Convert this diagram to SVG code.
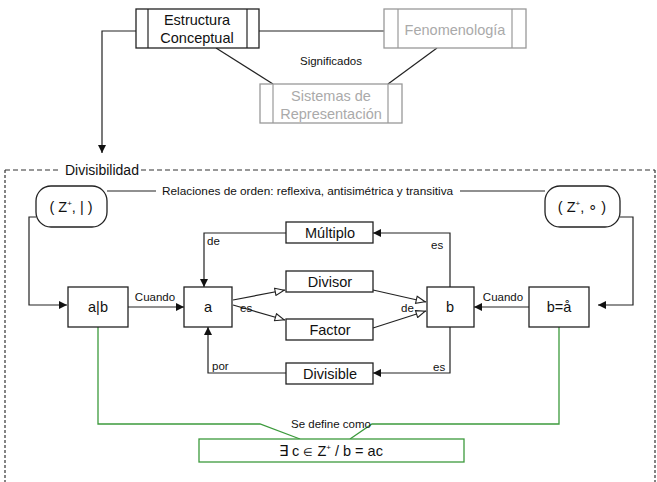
<svg xmlns="http://www.w3.org/2000/svg" width="657" height="482" viewBox="0 0 657 482">
  <style>
    text { font-family: "Liberation Sans", Arial, sans-serif; fill: #111; }
    .box { fill: #fff; stroke: #222; stroke-width: 1.3; }
    .gbox { fill: #fff; stroke: #999; stroke-width: 1.3; }
    .gtxt { fill: #aaa; }
    .lbl { font-size: 14.5px; text-anchor: middle; }
    .small { font-size: 11.5px; }
    .line { fill: none; stroke: #222; stroke-width: 1.2; }
    .green { fill: none; stroke: #3c9a3c; stroke-width: 1.3; }
    .dash { fill: none; stroke: #333; stroke-width: 1.2; }
  </style>
  <defs>
    <marker id="arr" viewBox="0 0 10 10" refX="10" refY="5" markerWidth="9" markerHeight="8" markerUnits="userSpaceOnUse" orient="auto">
      <path d="M0,0 L10,5 L0,10 z" fill="#111"/>
    </marker>
    <marker id="open" viewBox="0 0 12 10" refX="12" refY="5" markerWidth="12" markerHeight="9" markerUnits="userSpaceOnUse" orient="auto">
      <path d="M1,1 L11,5 L1,9 z" fill="#fff" stroke="#222" stroke-width="1.2"/>
    </marker>
  </defs>

  <!-- connectors -->
  <g id="connectors">
    <!-- top concept map -->
    <line class="line" x1="259" y1="31" x2="384" y2="31"/>
    <line class="line" x1="216" y1="48" x2="273" y2="84"/>
    <line class="line" x1="437" y1="48" x2="388" y2="84"/>
    <path class="line" d="M136,31 H102 V153" marker-end="url(#arr)"/>

    <!-- order relations line -->
    <line class="line" x1="107" y1="191" x2="156" y2="191"/>
    <line class="line" x1="460" y1="191" x2="545" y2="191"/>

    <!-- (Z+,|) to a|b -->
    <path class="line" d="M36,217 H29 V305 H67" marker-end="url(#arr)"/>
    <!-- (Z+,o) to b=a -->
    <path class="line" d="M620,217 H633 V305 H598" marker-end="url(#arr)"/>

    <!-- Cuando arrows -->
    <line class="line" x1="128" y1="307" x2="184" y2="307" marker-end="url(#arr)"/>
    <line class="line" x1="529" y1="307" x2="474" y2="307" marker-end="url(#arr)"/>

    <!-- Multiplo -->
    <path class="line" d="M286,233 H204 V287" marker-end="url(#arr)"/>
    <path class="line" d="M450,287 V233 H373" marker-end="url(#arr)"/>
    <!-- Divisible -->
    <path class="line" d="M450,327 V373 H373" marker-end="url(#arr)"/>
    <path class="line" d="M286,373 H208 V327" marker-end="url(#arr)"/>

    <!-- es / de -->
    <line class="line" x1="233" y1="300" x2="285" y2="290" marker-end="url(#open)"/>
    <line class="line" x1="233" y1="305" x2="285" y2="320" marker-end="url(#open)"/>
    <line class="line" x1="373" y1="290" x2="426" y2="302" marker-end="url(#open)"/>
    <line class="line" x1="373" y1="328" x2="426" y2="311" marker-end="url(#open)"/>

    <!-- definition -->
    <path class="green" d="M98,327 V424 H260 L300,439"/>
    <path class="green" d="M559,327 V424 H372 L350,439"/>
  </g>

  <!-- labels on connectors -->
  <g id="connector-labels" class="small">
    <text x="331" y="65" text-anchor="middle">Significados</text>
    <text x="155" y="301" text-anchor="middle">Cuando</text>
    <text x="503" y="301" text-anchor="middle">Cuando</text>
    <text x="207" y="245">de</text>
    <text x="431" y="249">es</text>
    <text x="240" y="312">es</text>
    <text x="401" y="312">de</text>
    <text x="212" y="370">por</text>
    <text x="433" y="371">es</text>
    <text x="331" y="428" text-anchor="middle">Se define como</text>
  </g>

  <!-- top nodes -->
  <g id="estructura">
    <rect class="box" x="136" y="9" width="123" height="39"/>
    <line class="line" x1="148" y1="9" x2="148" y2="48"/>
    <line class="line" x1="247" y1="9" x2="247" y2="48"/>
    <text class="lbl" x="197" y="25">Estructura</text>
    <text class="lbl" x="197" y="43">Conceptual</text>
  </g>
  <g id="fenomenologia">
    <rect class="gbox" x="384" y="9" width="142" height="39"/>
    <line stroke="#999" stroke-width="1.2" x1="398" y1="9" x2="398" y2="48"/>
    <line stroke="#999" stroke-width="1.2" x1="512" y1="9" x2="512" y2="48"/>
    <text class="lbl gtxt" x="455" y="35">Fenomenología</text>
  </g>
  <g id="sistemas">
    <rect class="gbox" x="260" y="84" width="142" height="39"/>
    <line stroke="#999" stroke-width="1.2" x1="273" y1="84" x2="273" y2="123"/>
    <line stroke="#999" stroke-width="1.2" x1="388" y1="84" x2="388" y2="123"/>
    <text class="lbl gtxt" x="331" y="101">Sistemas de</text>
    <text class="lbl gtxt" x="331" y="119">Representación</text>
  </g>

  <!-- Divisibilidad frame -->
  <g id="divisibilidad">
    <path class="dash" stroke-dasharray="5,3" d="M5,170 H60 M141,170 H655"/>
    <path class="dash" stroke-dasharray="3,2" d="M5,170 V482 M655,170 V482"/>
    <text x="65" y="175" font-size="14">Divisibilidad</text>
    <text x="162" y="195" font-size="11.8">Relaciones de orden: reflexiva, antisimétrica y transitiva</text>
  </g>

  <g id="z-div">
    <rect class="box" x="36" y="186" width="71" height="41" rx="15"/>
    <text class="lbl" x="71" y="212">( Z<tspan font-size="8" dy="-6">+</tspan><tspan dy="6">, | )</tspan></text>
  </g>
  <g id="z-assoc">
    <rect class="box" x="545" y="186" width="75" height="41" rx="15"/>
    <text class="lbl" x="582" y="212">( Z<tspan font-size="8" dy="-6">+</tspan><tspan dy="6">, ∘ )</tspan></text>
  </g>

  <g id="a-div-b">
    <rect class="box" x="68" y="287" width="60" height="40"/>
    <text class="lbl" x="98" y="312">a|b</text>
  </g>
  <g id="a">
    <rect class="box" x="184" y="287" width="48" height="40"/>
    <text class="lbl" x="208" y="312">a</text>
  </g>
  <g id="b">
    <rect class="box" x="427" y="287" width="47" height="40"/>
    <text class="lbl" x="450" y="312">b</text>
  </g>
  <g id="b-eq">
    <rect class="box" x="529" y="287" width="60" height="40"/>
    <text class="lbl" x="559" y="312">b=å</text>
  </g>

  <g id="multiplo">
    <rect class="box" x="286" y="222" width="87" height="21"/>
    <text class="lbl" x="330" y="238">Múltiplo</text>
  </g>
  <g id="divisor">
    <rect class="box" x="286" y="271" width="87" height="21"/>
    <text class="lbl" x="330" y="287">Divisor</text>
  </g>
  <g id="factor">
    <rect class="box" x="286" y="319" width="87" height="21"/>
    <text class="lbl" x="330" y="335">Factor</text>
  </g>
  <g id="divisible">
    <rect class="box" x="286" y="363" width="87" height="21"/>
    <text class="lbl" x="330" y="379">Divisible</text>
  </g>

  <g id="definicion">
    <rect x="199" y="439" width="265" height="23" fill="#fff" stroke="#3c9a3c" stroke-width="1.3"/>
    <text class="lbl" x="331" y="456">∃ c <tspan font-size="11">∈</tspan> Z<tspan font-size="8" dy="-6">+</tspan><tspan dy="6"> /  b = ac</tspan></text>
  </g>
</svg>
